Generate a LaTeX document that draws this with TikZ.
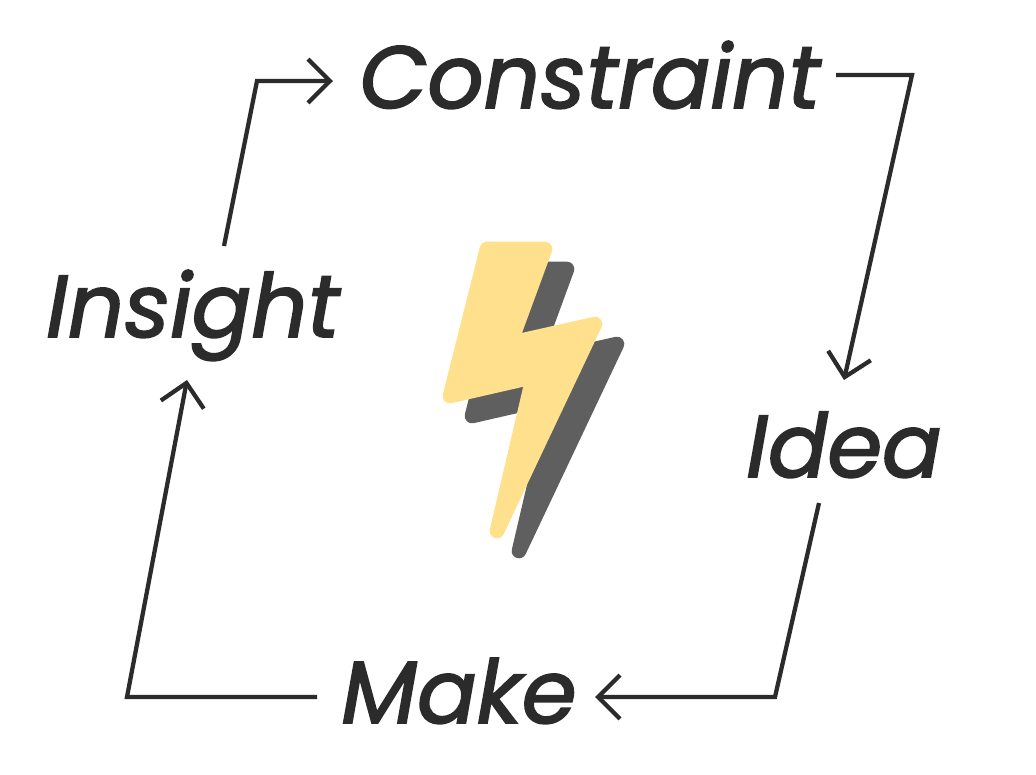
\documentclass[tikz,border=0pt]{standalone}
\usepackage{fontspec}
\setmainfont{Poppins}
\usetikzlibrary{arrows.meta}
\definecolor{ink}{HTML}{2B2B2B}
\definecolor{boltshade}{HTML}{5F5F5F}
\definecolor{boltfill}{HTML}{FFE08C}
\newfontfamily\wordfont[ItalicFeatures={FakeBold=2}]{Poppins}
\tikzset{
  flow/.style={
    -{Straight Barb[length=5.8mm,width=11.5mm,line width=3.2pt]},
    draw=ink,
    line width=3.2pt
  },
  word/.style={
    font=\fontsize{66}{70}\selectfont\wordfont\itshape,
    text=ink,
    inner sep=0pt,
    anchor=base
  },
  bolt/.style={
    line width=11pt,
    line join=round
  }
}
\begin{document}
\begin{tikzpicture}[x=0.75pt,y=-0.75pt]
  \useasboundingbox (0,0) rectangle (1036,775);

  \node[word] (constraint) at (590,108) {Constraint};
  \node[word] (insight) at (193,337) {Insight};
  \node[word] (idea) at (844,477) {Idea};
  \node[word] (make) at (459,723) {Make};

  \coordinate (constraint-out) at (836,75);
  \coordinate (idea-in) at (844,380);
  \coordinate (idea-out) at (819,503);
  \coordinate (make-in) at (595,697);
  \coordinate (make-out) at (317,697);
  \coordinate (insight-in) at (187,380);
  \coordinate (insight-out) at (224,246);
  \coordinate (constraint-in) at (333,81);

  \draw[flow] (constraint-out) -- (912,75) -- (idea-in);
  \draw[flow] (idea-out) -- (775,697) -- (make-in);
  \draw[flow] (make-out) -- (127,697) -- (insight-in);
  \draw[flow] (insight-out) -- (257,81) -- (constraint-in);

  \fill[boltshade,draw=boltshade,bolt,shift={(22,20)}]
    (487,249) -- (545,249) -- (510.5,343) -- (595,324) -- (497,531) -- (533,377) -- (450,396) -- cycle;
  \fill[boltfill,draw=boltfill,bolt]
    (487,249) -- (545,249) -- (510.5,343) -- (595,324) -- (497,531) -- (533,377) -- (450,396) -- cycle;
\end{tikzpicture}
\end{document}
